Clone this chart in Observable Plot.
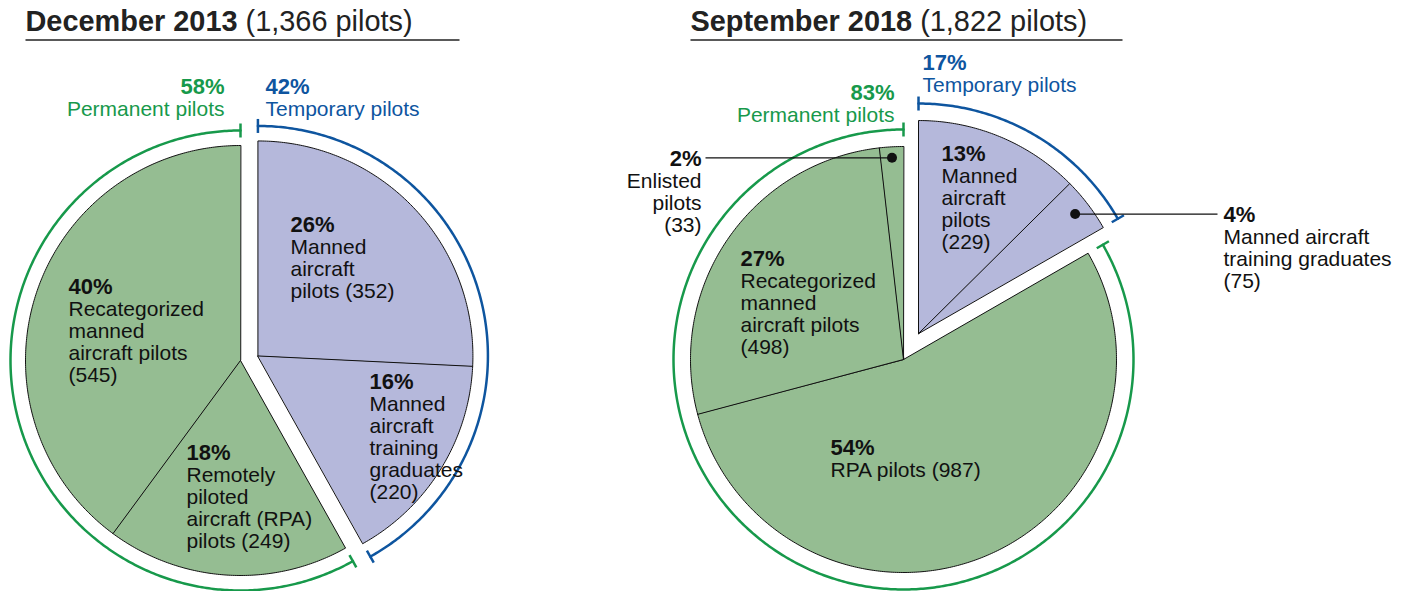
<!DOCTYPE html>
<html><head><meta charset="utf-8">
<script src="https://cdn.jsdelivr.net/npm/d3@7"></script>
<script src="https://cdn.jsdelivr.net/npm/@observablehq/plot@0.6"></script>
<style>body{margin:0;background:#fff} svg{display:block}</style>
</head><body><div id="chart"></div>
<script>
// ---- data ----
const titles = ["December 2013", "September 2018"];
const totals = ["(1,366 pilots)", "(1,822 pilots)"];
const groupNames = ["Permanent pilots", "Temporary pilots"];
const groupPct2013 = ["58%", "42%"];
const groupPct2018 = ["83%", "17%"];

const values2013 = [352, 220, 249, 545];
const groups2013 = ["Temporary", "Temporary", "Permanent", "Permanent"];
const pct2013 = ["26%", "16%", "18%", "40%"];
const text2013 = [
  "Manned\naircraft\npilots (352)",
  "Manned\naircraft\ntraining\ngraduates\n(220)",
  "Remotely\npiloted\naircraft (RPA)\npilots (249)",
  "Recategorized\nmanned\naircraft pilots\n(545)"
];

const values2018 = [229, 75, 987, 498, 33];
const groups2018 = ["Temporary", "Temporary", "Permanent", "Permanent", "Permanent"];
const pct2018 = ["13%", "4%", "54%", "27%", "2%"];
const text2018 = [
  "Manned\naircraft\npilots\n(229)",
  "Manned aircraft\ntraining graduates\n(75)",
  "RPA pilots (987)",
  "Recategorized\nmanned\naircraft pilots\n(498)",
  "Enlisted\npilots\n(33)"
];

// ---- styles / layout ----
const FONT = "Liberation Sans, Arial, Helvetica, sans-serif";
const fillColor = {Permanent: "#95bd92", Temporary: "#b5b8db"};
const lineColor = {Permanent: "#17994b", Temporary: "#0e559f"};
const W = 1404, H = 591;
const TITLE_SIZE = 28.9;

const pies = [
  {values: values2013, groups: groups2013, pct: pct2013, text: text2013, cx: 240, cy: 360, r: 215, R: 230, explode: 18,
   labelPos: [[290, 216, "start"], [369, 373, "start"], [186, 444, "start"], [68, 278, "start"]],
   leaders: [],
   groupLabel: [[224, 78, "end"], [265, 78, "start"]], groupPct: groupPct2013,
   titleX: 25, ruleX2: 459},
  {values: values2018, groups: groups2018, pct: pct2018, text: text2018, cx: 903, cy: 359, r: 213, R: 230, explode: 30,
   labelPos: [[941, 145, "start"], [1223, 206, "start"], [830, 439, "start"], [740, 250, "start"], [701, 150, "end"]],
   leaders: [[4, 202, 705], [1, 197, 1217]],
   groupLabel: [[894, 84, "end"], [922, 54, "start"]], groupPct: groupPct2018,
   titleX: 690, ruleX2: 1122}
];

const pt = (c, rad, a) => [c[0] + rad * Math.sin(a), c[1] - rad * Math.cos(a)];

const slicePts = [], arcPts = [], ticks = [], pctLabels = [], bodyLabels = [], leaderLines = [], leaderDots = [];
pies.forEach((p, pi) => {
  const total = d3.sum(p.values);
  let acc = 0;
  const sl = p.values.map((v, i) => {
    const a0 = acc / total * 2 * Math.PI; acc += v;
    return {i, group: p.groups[i], a0, a1: acc / total * 2 * Math.PI};
  });
  const tmp = sl.filter(s => s.group === "Temporary");
  const ta0 = d3.min(tmp, s => s.a0), ta1 = d3.max(tmp, s => s.a1);
  const mid = (ta0 + ta1) / 2;
  const centers = {
    Permanent: [p.cx, p.cy],
    Temporary: [p.cx + p.explode * Math.sin(mid), p.cy - p.explode * Math.cos(mid)]
  };
  sl.forEach(s => {
    const c = centers[s.group];
    const id = pi + "-" + s.i;
    slicePts.push({id, x: c[0], y: c[1], color: fillColor[s.group]});
    const n = Math.max(2, Math.ceil((s.a1 - s.a0) / 0.01));
    for (let k = 0; k <= n; k++) {
      const [x, y] = pt(c, p.r, s.a0 + (s.a1 - s.a0) * k / n);
      slicePts.push({id, x, y, color: fillColor[s.group]});
    }
  });
  const ranges = {Temporary: [ta0, ta1], Permanent: [ta1, ta0 + 2 * Math.PI]};
  for (const g of ["Permanent", "Temporary"]) {
    const [a0, a1] = ranges[g];
    const c = centers[g];
    const n = Math.ceil((a1 - a0) / 0.01);
    for (let k = 0; k <= n; k++) {
      const [x, y] = pt(c, p.R, a0 + (a1 - a0) * k / n);
      arcPts.push({id: pi + g, x, y, color: lineColor[g]});
    }
    for (const a of [a0, a1]) {
      const [x1, y1] = pt(c, p.R - 7, a), [x2, y2] = pt(c, p.R + 7, a);
      ticks.push({x1, y1, x2, y2, color: lineColor[g]});
    }
  }
  p.labelPos.forEach(([x, y, anchor], i) => {
    pctLabels.push({x, y, anchor, text: p.pct[i], color: "#111"});
    bodyLabels.push({x, y: y + 22, anchor, text: p.text[i], color: "#111"});
  });
  p.leaders.forEach(([i, rad, xEnd]) => {
    const s = sl[i];
    const [x, y] = pt(centers[s.group], rad, (s.a0 + s.a1) / 2);
    leaderDots.push({x, y});
    leaderLines.push({x1: x, y1: y, x2: xEnd, y2: y});
  });
  ["Permanent", "Temporary"].forEach((g, gi) => {
    const [x, y, anchor] = p.groupLabel[gi];
    pctLabels.push({x, y, anchor, text: p.groupPct[gi], color: lineColor[g]});
    bodyLabels.push({x, y: y + 22, anchor, text: groupNames[gi], color: lineColor[g]});
  });
});

// title measurement
const ctx = document.createElement("canvas").getContext("2d");
ctx.font = "bold " + TITLE_SIZE + "px " + FONT;
const titleData = pies.map((p, i) => {
  const w = ctx.measureText(titles[i] + " ").width;
  return {x: p.titleX, x2: p.titleX + w, title: titles[i], total: totals[i], ruleX2: p.ruleX2};
});

const textMarks = [];
for (const anchor of ["start", "end"]) {
  textMarks.push(
    Plot.text(pctLabels.filter(d => d.anchor === anchor), {x: "x", y: "y", text: "text", textAnchor: anchor, lineAnchor: "top", fontWeight: "bold", fontSize: 22, fill: "color"}),
    Plot.text(bodyLabels.filter(d => d.anchor === anchor), {x: "x", y: "y", text: "text", textAnchor: anchor, lineAnchor: "top", fontSize: 21, lineHeight: 22 / 21, fill: "color"})
  );
}

const plot = Plot.plot({
  width: W, height: H, margin: 0,
  x: {domain: [0, W], range: [0, W], axis: null},
  y: {domain: [0, H], range: [0, H], axis: null},
  color: {type: "identity"},
  style: {fontFamily: FONT, background: "#fff"},
  marks: [
    Plot.line(slicePts, {x: "x", y: "y", z: "id", fill: "color", stroke: "#111", strokeWidth: 1, curve: "linear-closed"}),
    Plot.line(arcPts, {x: "x", y: "y", z: "id", stroke: "color", strokeWidth: 2.5}),
    Plot.link(ticks, {x1: "x1", y1: "y1", x2: "x2", y2: "y2", stroke: "color", strokeWidth: 2.5}),
    Plot.link(leaderLines, {x1: "x1", y1: "y1", x2: "x2", y2: "y2", stroke: "#111", strokeWidth: 1.3}),
    Plot.dot(leaderDots, {x: "x", y: "y", r: 5, fill: "#111", stroke: null}),
    ...textMarks,
    Plot.text(titleData, {x: "x", y: 30, text: "title", textAnchor: "start", lineAnchor: "bottom", fontWeight: "bold", fontSize: TITLE_SIZE, fill: "#222"}),
    Plot.text(titleData, {x: "x2", y: 30, text: "total", textAnchor: "start", lineAnchor: "bottom", fontSize: TITLE_SIZE, fill: "#222"}),
    Plot.link(titleData, {x1: "x", x2: "ruleX2", y1: 39.5, y2: 39.5, stroke: "#222", strokeWidth: 1.3})
  ]
});
document.getElementById("chart").appendChild(plot);
</script>
</body></html>
